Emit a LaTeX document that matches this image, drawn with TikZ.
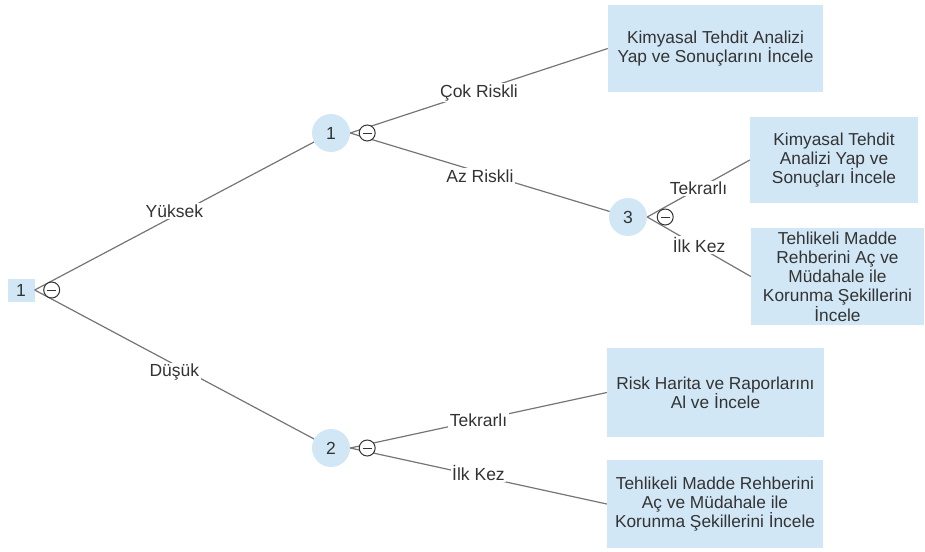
\documentclass[tikz,border=0pt]{standalone}
\usepackage{fontspec}
\setmainfont{Liberation Sans}
\definecolor{boxblue}{HTML}{D1E7F6}
\definecolor{txt}{HTML}{333333}
\definecolor{edgegray}{HTML}{757575}
\tikzset{
  leaf/.style={rectangle, fill=boxblue, text=txt, align=center, inner sep=0pt, font=\fontsize{17.3}{19.2}\selectfont},
  num/.style={circle, fill=boxblue, text=txt, minimum size=38pt, inner sep=0pt, font=\fontsize{17.5}{20}\selectfont},
  rootbox/.style={rectangle, fill=boxblue, text=txt, minimum width=27pt, minimum height=23pt, inner sep=0pt, font=\fontsize{17.5}{20}\selectfont},
  conn/.style={draw=edgegray, line width=1.2pt},
  lbl/.style={fill=white, text=txt, inner sep=1.5pt, font=\fontsize{17.5}{20}\selectfont},
  collapse/.style={circle, draw=txt, fill=white, minimum size=16pt, inner sep=0pt, line width=1pt,
    path picture={\draw[txt, line width=1pt] ([xshift=-4.5pt]path picture bounding box.center) -- ([xshift=4.5pt]path picture bounding box.center);}}
}
\begin{document}
\begin{tikzpicture}[x=1pt,y=-1pt]
\path[use as bounding box] (0,0) rectangle (925,551);
\node[rootbox] (r) at (21,290) {1};
\node[num] (n1) at (331,133) {1};
\node[num] (n2) at (331,448) {2};
\node[num] (n3) at (628,217) {3};
\node[leaf, minimum width=215pt, minimum height=87pt] (a) at (715.5,48.5) {Kimyasal Tehdit Analizi\\Yap ve Sonuçlarını İncele};
\node[leaf, minimum width=168pt, minimum height=86pt] (b) at (834,160) {Kimyasal Tehdit\\Analizi Yap ve\\Sonuçları İncele};
\node[leaf, minimum width=173pt, minimum height=97pt] (c) at (837.5,276.5) {Tehlikeli Madde\\Rehberini Aç ve\\Müdahale ile\\Korunma Şekillerini\\İncele};
\node[leaf, minimum width=217pt, minimum height=89pt] (d) at (715.5,392.5) {Risk Harita ve Raporlarını\\Al ve İncele};
\node[leaf, minimum width=216pt, minimum height=88pt] (e) at (715,504) {Tehlikeli Madde Rehberini\\Aç ve Müdahale ile\\Korunma Şekillerini İncele};
\draw[conn] (r.east) -- node[lbl, yshift=5pt] {Yüksek} (n1);
\draw[conn] (r.east) -- node[lbl, yshift=-8pt] {Düşük} (n2);
\draw[conn] (n1.east) -- node[lbl, yshift=-2pt] {Çok Riskli} (a.west);
\draw[conn] (n1.east) -- node[lbl, yshift=-4pt] {Az Riskli} (n3);
\draw[conn] (n3.east) -- node[lbl] {Tekrarlı} (b.west);
\draw[conn] (n3.east) -- node[lbl, yshift=2pt] {İlk Kez} (c.west);
\draw[conn] (n2.east) -- node[lbl] {Tekrarlı} (d.west);
\draw[conn] (n2.east) -- node[lbl, yshift=3pt] {İlk Kez} (e.west);
\node[collapse] (c0) at ([xshift=17pt]r.east) {};
\node[collapse] (c1) at ([xshift=17pt]n1.east) {};
\node[collapse] (c2) at ([xshift=17pt]n2.east) {};
\node[collapse] (c3) at ([xshift=18pt]n3.east) {};
\end{tikzpicture}
\end{document}
